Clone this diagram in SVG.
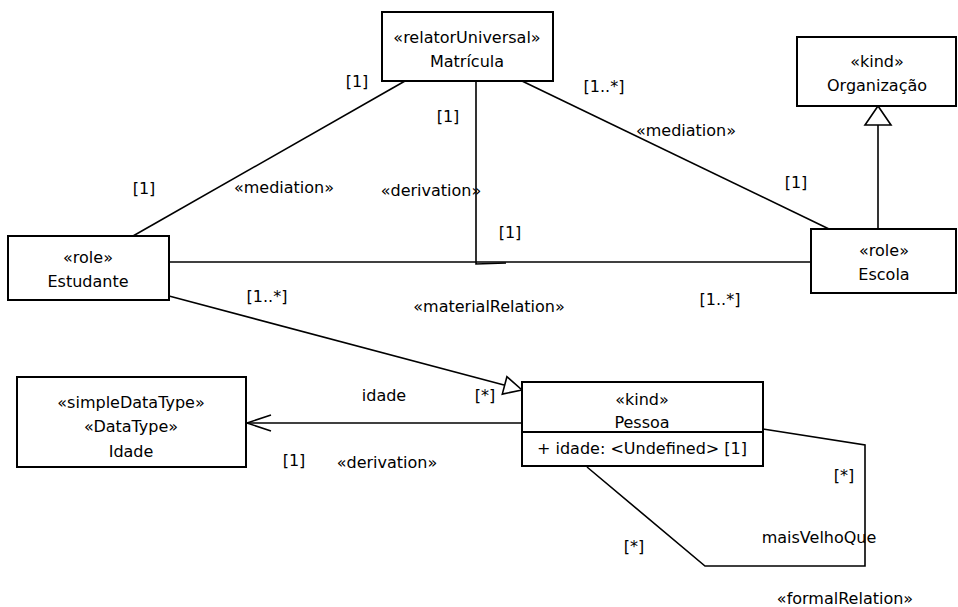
<svg xmlns="http://www.w3.org/2000/svg" width="958" height="607" viewBox="0 0 958 607">
  <style>
    .box { fill: #ffffff; stroke: #000000; stroke-width: 2; }
    .edge { fill: none; stroke: #000000; stroke-width: 1.6; }
    .head { fill: #ffffff; stroke: #000000; stroke-width: 1.6; }
    text { font-family: "DejaVu Sans", "Liberation Sans", sans-serif; font-size: 16px; fill: #000000; }
    .c { text-anchor: middle; }
  </style>
  <rect width="958" height="607" fill="#ffffff"/>

  <!-- connectors -->
  <g id="connectors">
    <!-- Estudante - Matricula mediation -->
    <line class="edge" x1="133" y1="236" x2="405" y2="81"/>
    <!-- Matricula - Escola mediation -->
    <line class="edge" x1="522" y1="81" x2="829" y2="229"/>
    <!-- derivation from Matricula down to the material relation -->
    <polyline class="edge" points="476,81 476,264 506,263"/>
    <!-- Estudante - Escola material relation -->
    <line class="edge" x1="169" y1="262" x2="811" y2="262"/>
    <!-- Escola specialises Organizacao -->
    <line class="edge" x1="878" y1="229" x2="878" y2="125"/>
    <polygon class="head" points="878,106 865,125 891,125"/>
    <!-- Estudante specialises Pessoa -->
    <line class="edge" x1="169" y1="296" x2="504" y2="385"/>
    <polygon class="head" points="522,390 502.3,394.1 506.9,376.7"/>
    <!-- Pessoa idade -> Idade -->
    <line class="edge" x1="522" y1="423" x2="247" y2="423"/>
    <polyline class="edge" points="271,415 247,423 271,431"/>
    <!-- maisVelhoQue self relation -->
    <polyline class="edge" points="763,429 865,445 865,566 705,566 587,467"/>
  </g>

  <!-- connector labels -->
  <g id="labels">
    <text class="c" x="357" y="87">[1]</text>
    <text class="c" x="448" y="122">[1]</text>
    <text class="c" x="604" y="92">[1..*]</text>
    <text class="c" x="686" y="136">«mediation»</text>
    <text class="c" x="144" y="194">[1]</text>
    <text class="c" x="284" y="193">«mediation»</text>
    <text class="c" x="431" y="196">«derivation»</text>
    <text class="c" x="796" y="188">[1]</text>
    <text class="c" x="510" y="238">[1]</text>
    <text class="c" x="267" y="302">[1..*]</text>
    <text class="c" x="489" y="312">«materialRelation»</text>
    <text class="c" x="720" y="305">[1..*]</text>
    <text class="c" x="384" y="401">idade</text>
    <text class="c" x="485" y="401">[*]</text>
    <text class="c" x="294" y="466">[1]</text>
    <text class="c" x="387" y="468">«derivation»</text>
    <text class="c" x="844" y="481">[*]</text>
    <text class="c" x="819" y="543">maisVelhoQue</text>
    <text class="c" x="634" y="552">[*]</text>
    <text class="c" x="845" y="604">«formalRelation»</text>
  </g>

  <!-- nodes -->
  <g id="matricula">
    <rect class="box" x="382" y="12" width="171" height="69"/>
    <text class="c" x="467" y="43">«relatorUniversal»</text>
    <text class="c" x="467" y="67">Matrícula</text>
  </g>
  <g id="organizacao">
    <rect class="box" x="797" y="37" width="159" height="69"/>
    <text class="c" x="877" y="67">«kind»</text>
    <text class="c" x="877" y="91">Organização</text>
  </g>
  <g id="estudante">
    <rect class="box" x="8" y="236" width="161" height="64"/>
    <text class="c" x="88" y="263">«role»</text>
    <text class="c" x="88" y="287">Estudante</text>
  </g>
  <g id="escola">
    <rect class="box" x="811" y="229" width="145" height="64"/>
    <text class="c" x="884" y="256">«role»</text>
    <text class="c" x="884" y="280">Escola</text>
  </g>
  <g id="idade">
    <rect class="box" x="17" y="377" width="229" height="90"/>
    <text class="c" x="131" y="408">«simpleDataType»</text>
    <text class="c" x="131" y="432">«DataType»</text>
    <text class="c" x="131" y="457">Idade</text>
  </g>
  <g id="pessoa">
    <rect class="box" x="522" y="382" width="241" height="84"/>
    <line class="box" x1="522" y1="432" x2="763" y2="432"/>
    <text class="c" x="642" y="405">«kind»</text>
    <text class="c" x="642" y="428">Pessoa</text>
    <text x="537" y="454">+ idade: &lt;Undefined&gt; [1]</text>
  </g>
</svg>
